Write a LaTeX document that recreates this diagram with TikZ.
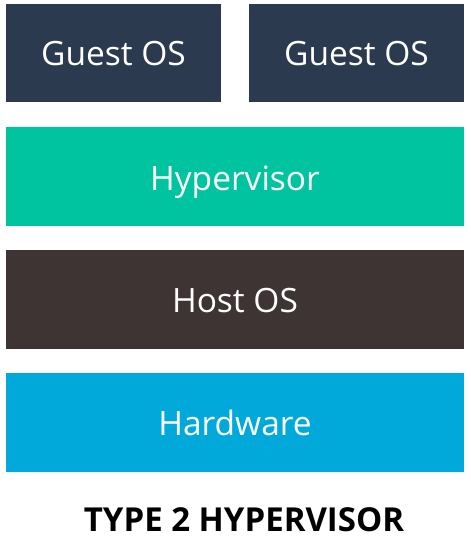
\documentclass[tikz,border=0pt]{standalone}
\usepackage{fontspec}
\setmainfont{Open Sans}
\definecolor{guest}{HTML}{2B3A4E}
\definecolor{hyper}{HTML}{00C49F}
\definecolor{host}{HTML}{3E3434}
\definecolor{hw}{HTML}{00A9DA}
\begin{document}
\begin{tikzpicture}[x=1pt,y=-1pt,
  layer/.style={inner sep=0pt,outer sep=0pt,text=white,font=\fontsize{33.5}{40}\selectfont},
]
\useasboundingbox (0,0) rectangle (471,539);
\fill[guest] (6,4) rectangle (221,102);
\fill[guest] (249,4) rectangle (464,102);
\fill[hyper] (6,127) rectangle (464,226);
\fill[host] (6,250) rectangle (464,349);
\fill[hw] (6,373) rectangle (464,472);
\node[layer] (g1) at (113.5,54) {Guest OS};
\node[layer] (g2) at (356.5,54) {Guest OS};
\node[layer] (hv) at (235,182) {Hypervisor};
\node[layer] (ho) at (235,301) {Host OS};
\node[layer] (hwn) at (235,423) {Hardware};
\node[inner sep=0pt,anchor=base,text height=24pt,text depth=0pt,font=\bfseries\fontsize{33}{40}\selectfont] (title) at (244,531) {TYPE 2 HYPERVISOR};
\end{tikzpicture}
\end{document}
